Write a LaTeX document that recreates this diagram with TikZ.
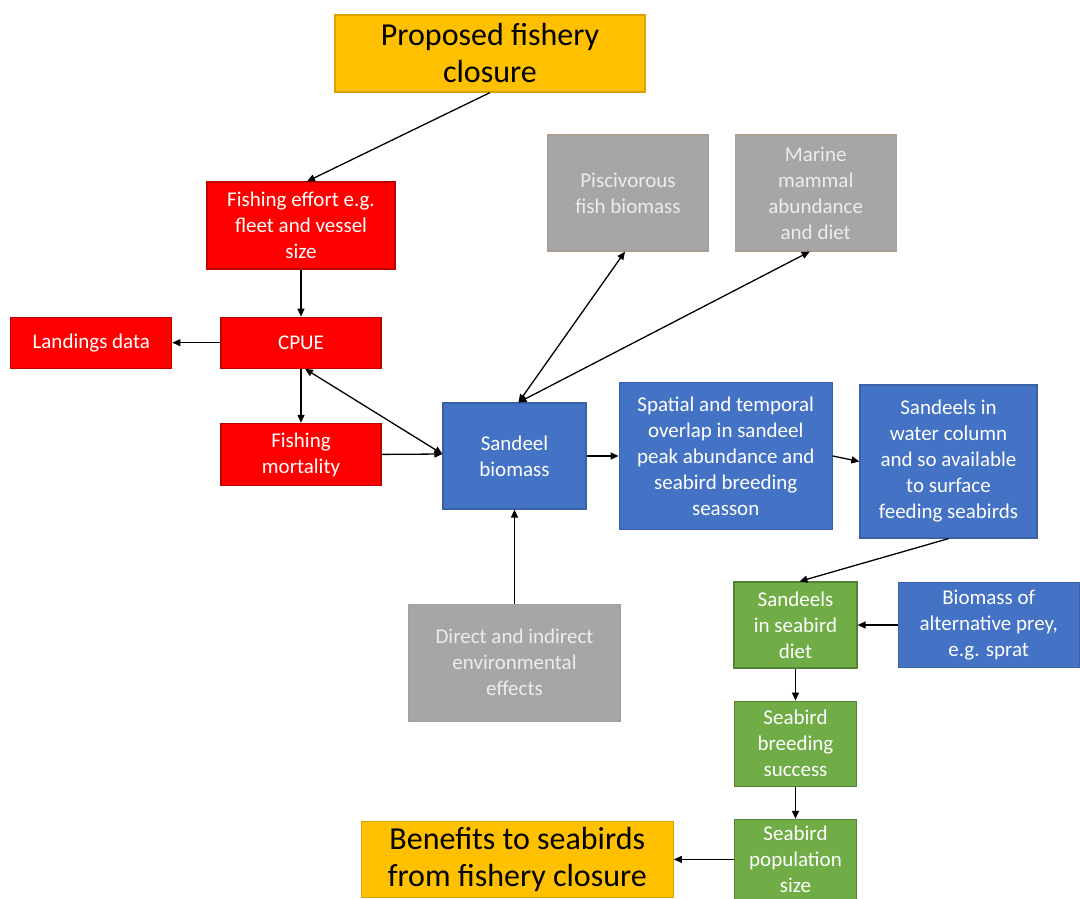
\documentclass[tikz,border=0pt]{standalone}
\usepackage{fontspec}
\setmainfont{Carlito}
\usetikzlibrary{arrows.meta,positioning}
\definecolor{ClosureOrange}{RGB}{255,192,0}
\definecolor{FishRed}{RGB}{255,0,0}
\definecolor{SandBlue}{RGB}{68,114,196}
\definecolor{BirdGreen}{RGB}{112,173,71}
\definecolor{OtherGray}{RGB}{166,166,166}

\begin{document}
\begin{tikzpicture}[
    x=1pt, y=-1pt,
    node distance=30pt and 30pt,
    box/.style={draw, line width=1.2pt, align=center, inner sep=2pt, font=\fontsize{21}{26}\selectfont, text=white},
    redbox/.style={box, fill=FishRed, draw=FishRed!75!black},
    bluebox/.style={box, fill=SandBlue, draw=SandBlue!85!black},
    greenbox/.style={box, fill=BirdGreen, draw=BirdGreen!75!black},
    graybox/.style={box, fill=OtherGray, draw=OtherGray!80!brown, text=white!85!gray},
    goalbox/.style={box, fill=ClosureOrange, draw=ClosureOrange!85!black, text=black, font=\fontsize{32}{37}\selectfont},
    arrow/.style={-{Triangle[length=8pt,width=7pt]}, line width=1.3pt},
    twoway/.style={{Triangle[length=8pt,width=7pt]}-{Triangle[length=8pt,width=7pt]}, line width=1.3pt}
]
    \useasboundingbox (0,0) rectangle (1080,898);

    \node[goalbox, minimum width=310pt, minimum height=77pt] (closure) at (490,53.5) {Proposed fishery\\closure};

    % fishing side
    \node[redbox, minimum width=188pt, minimum height=87pt] (effort) at (301,225.5) {Fishing effort e.g.\\fleet and vessel\\size};
    \node[redbox, minimum width=160pt, minimum height=51pt, below=47pt of effort] (cpue) {CPUE};
    \node[redbox, minimum width=161pt, minimum height=51pt, left=48pt of cpue] (landings) {Landings data};
    \node[redbox, minimum width=160pt, minimum height=62pt, below=54pt of cpue] (mortality) {Fishing\\mortality};

    % sandeels
    \node[bluebox, minimum width=143pt, minimum height=106pt] (sandeel) at (514.5,456) {Sandeel\\biomass};
    \node[bluebox, minimum width=213pt, minimum height=147pt, right=32pt of sandeel] (overlap) {Spatial and temporal\\overlap in sandeel\\peak abundance and\\seabird breeding\\seasson};
    \node[bluebox, minimum width=177pt, minimum height=153pt] (column) at (948.5,461.5) {Sandeels in\\water column\\and so available\\to surface\\feeding seabirds};
    \node[graybox, minimum width=211pt, minimum height=117pt, below=94pt of sandeel] (environ) {Direct and indirect\\environmental\\effects};

    % predators
    \node[graybox, minimum width=160pt, minimum height=116pt] (piscivore) at (628,193) {Piscivorous\\fish biomass};
    \node[graybox, minimum width=161pt, minimum height=116pt, right=26pt of piscivore] (mammal) {Marine\\mammal\\abundance\\and diet};

    % seabirds
    \node[greenbox, minimum width=123pt, minimum height=86pt] (diet) at (795.5,625) {Sandeels\\in seabird\\diet};
    \node[bluebox, minimum width=181pt, minimum height=85pt, right=40pt of diet] (prey) {Biomass of\\alternative prey,\\e.g. sprat};
    \node[greenbox, minimum width=122pt, minimum height=85pt, below=32pt of diet] (breeding) {Seabird\\breeding\\success};
    \node[greenbox, minimum width=122pt, minimum height=80pt, below=32pt of breeding] (popsize) {Seabird\\population\\size};
    \node[goalbox, minimum width=312pt, minimum height=76pt, left=60pt of popsize] (benefits) {Benefits to seabirds\\from fishery closure};

    \draw[arrow] (closure.south) -- ([xshift=6pt]effort.north);
    \draw[arrow] (effort) -- (cpue);
    \draw[arrow] (cpue) -- (landings);
    \draw[arrow] (cpue) -- (mortality);
    \draw[twoway] ([xshift=4pt]cpue.south) -- ([yshift=2pt]sandeel.west);
    \draw[arrow] (mortality.east) -- ([yshift=2pt]sandeel.west);
    \draw[twoway] ([xshift=4pt]sandeel.north) -- ([xshift=-3pt]piscivore.south);
    \draw[twoway] ([xshift=4pt]sandeel.north) -- ([xshift=-6pt]mammal.south);
    \draw[arrow] (sandeel) -- (overlap);
    \draw[arrow] (overlap.east) -- (column.west);
    \draw[arrow] (environ) -- (sandeel);
    \draw[arrow] (column.south) -- ([xshift=4pt]diet.north);
    \draw[arrow] (prey) -- (diet);
    \draw[arrow] (diet) -- (breeding);
    \draw[arrow] (breeding) -- (popsize);
    \draw[arrow] (popsize) -- (benefits);
\end{tikzpicture}
\end{document}
